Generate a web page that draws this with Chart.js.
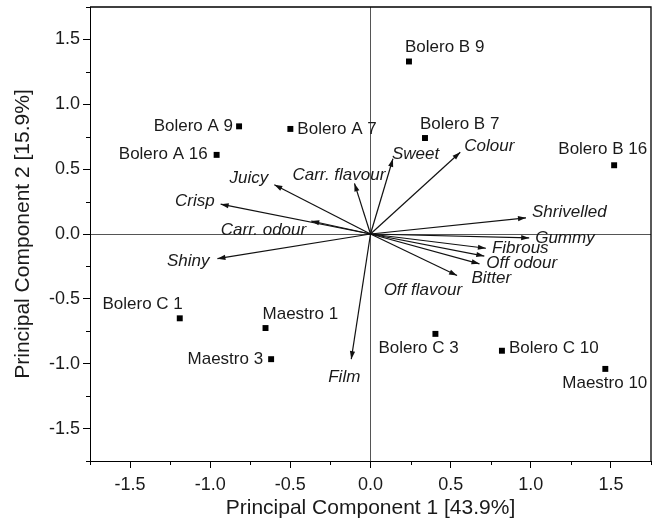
<!DOCTYPE html>
<html>
<head>
<meta charset="utf-8">
<script src="https://cdn.jsdelivr.net/npm/chart.js@4/dist/chart.umd.min.js"></script>
<style>
  body { margin: 0; background: #fff; }
  #wrap { width: 658px; height: 528px; }
</style>
</head>
<body>
<div id="wrap"><canvas id="pcaChart"></canvas></div>
<script>
// samples (scores)
let sampleNames = ["Bolero A 9", "Bolero A 7", "Bolero A 16", "Bolero B 9", "Bolero B 7", "Bolero B 16",
   "Bolero C 1", "Maestro 1", "Maestro 3", "Bolero C 3", "Bolero C 10", "Maestro 10"];
let sampleX = [-0.82, -0.50, -0.96, 0.24, 0.34, 1.52, -1.19, -0.655, -0.62, 0.405, 0.82, 1.465];
let sampleY = [0.83, 0.81, 0.61, 1.33, 0.74, 0.53, -0.65, -0.725, -0.965, -0.77, -0.90, -1.04];

// sensory attributes (loadings)
let attrNames = ["Juicy", "Crisp", "Carr. odour", "Shiny", "Carr. flavour", "Sweet", "Colour",
   "Shrivelled", "Gummy", "Fibrous", "Off odour", "Bitter", "Off flavour", "Film"];
let attrX = [-0.60, -0.935, -0.37, -0.955, -0.10, 0.14, 0.56, 0.97, 0.99, 0.72, 0.71, 0.68, 0.54, -0.12];
let attrY = [0.38, 0.23, 0.10, -0.19, 0.39, 0.58, 0.63, 0.125, -0.03, -0.11, -0.17, -0.23, -0.32, -0.965];

// axis ticks
let tickValues = [-1.5, -1.0, -0.5, 0.0, 0.5, 1.0, 1.5];
let minorTickValues = [-1.75, -1.25, -0.75, -0.25, 0.25, 0.75, 1.25, 1.75];

// label placement, pixel offset from the mark [dx, dy, align]
let sampleLabelPos = [
   [-6, 0, "right"], [7, 0, "left"], [-9, -1, "right"], [-4, -14, "left"],
   [-5, -14, "left"], [33, -16, "right"], [3, -14, "right"], [-3, -14, "left"],
   [-8, 0, "right"], [-57, 14, "left"], [7, -2, "left"], [42, 14, "right"]
];
let attrLabelPos = [
   [-6, -6, "right"], [-6, -3, "right"], [-5, 9, "right"], [-8, 3, "right"],
   [-62, -8, "left"], [-1, -5, "left"], [4, -6, "left"], [6, -6, "left"],
   [6, 0, "left"], [6, 0, "left"], [2, 7, "left"], [-8, 14, "left"],
   [5, 15, "right"], [-7, 18, "center"]
];

let fontFam = "'Liberation Sans', Arial, sans-serif";

// arrow shafts, one line per attribute
let arrowSets = attrNames.map((name, i) => ({
   type: "line",
   label: name,
   data: [{ x: 0, y: 0 }, { x: attrX[i], y: attrY[i] }],
   borderColor: "#111",
   borderWidth: 1.2,
   pointRadius: 0,
   showLine: true,
}));

// arrowheads, labels, frame, minor ticks
let extrasPlugin = {
   id: "extras",
   afterDatasetsDraw(chart) {
      let ctx = chart.ctx;
      let xs = chart.scales.x;
      let ys = chart.scales.y;
      let area = chart.chartArea;
      ctx.save();

      // arrowheads
      ctx.fillStyle = "#111";
      attrNames.forEach((n, i) => {
         let x0 = xs.getPixelForValue(0), y0 = ys.getPixelForValue(0);
         let x1 = xs.getPixelForValue(attrX[i]), y1 = ys.getPixelForValue(attrY[i]);
         let a = Math.atan2(y1 - y0, x1 - x0);
         let len = 8, half = 2.6;
         ctx.beginPath();
         ctx.moveTo(x1, y1);
         ctx.lineTo(x1 - len * Math.cos(a) + half * Math.sin(a), y1 - len * Math.sin(a) - half * Math.cos(a));
         ctx.lineTo(x1 - len * Math.cos(a) - half * Math.sin(a), y1 - len * Math.sin(a) + half * Math.cos(a));
         ctx.closePath();
         ctx.fill();
      });

      // sample labels
      ctx.fillStyle = "#1a1a1a";
      ctx.textBaseline = "middle";
      ctx.font = "17px " + fontFam;
      sampleNames.forEach((n, i) => {
         let p = sampleLabelPos[i];
         ctx.textAlign = p[2];
         ctx.fillText(n, xs.getPixelForValue(sampleX[i]) + p[0], ys.getPixelForValue(sampleY[i]) + p[1]);
      });

      // attribute labels
      ctx.font = "italic 17px " + fontFam;
      attrNames.forEach((n, i) => {
         let p = attrLabelPos[i];
         ctx.textAlign = p[2];
         ctx.fillText(n, xs.getPixelForValue(attrX[i]) + p[0], ys.getPixelForValue(attrY[i]) + p[1]);
      });

      // top and right frame
      ctx.strokeStyle = "#000";
      ctx.lineWidth = 1.3;
      ctx.beginPath();
      ctx.moveTo(area.left, area.top);
      ctx.lineTo(area.right, area.top);
      ctx.lineTo(area.right, area.bottom);
      ctx.stroke();

      // minor ticks
      ctx.lineWidth = 1;
      ctx.beginPath();
      minorTickValues.forEach((v) => {
         let px = Math.round(xs.getPixelForValue(v)) + 0.5;
         ctx.moveTo(px, area.bottom);
         ctx.lineTo(px, area.bottom + 4);
         let py = Math.round(ys.getPixelForValue(v)) + 0.5;
         ctx.moveTo(area.left, py);
         ctx.lineTo(area.left - 4, py);
      });
      ctx.stroke();
      ctx.restore();
   },
};

let zeroLine = (c) => (c.tick && c.tick.value === 0 ? "#555" : "rgba(0,0,0,0)");

new Chart("pcaChart", {
   type: "scatter",
   data: {
      datasets: [
         {
            label: "Samples",
            data: sampleX.map((x, i) => ({ x: x, y: sampleY[i] })),
            pointStyle: "rect",
            pointRadius: 4.2,
            backgroundColor: "#000",
            borderColor: "#000",
            borderWidth: 0,
         },
      ].concat(arrowSets),
   },
   options: {
      responsive: true,
      maintainAspectRatio: false,
      animation: false,
      layout: { padding: { top: 7, right: 7, left: 0, bottom: 0 } },
      plugins: {
         legend: { display: false },
         tooltip: { enabled: false },
      },
      scales: {
         x: {
            type: "linear",
            min: -1.75,
            max: 1.75,
            afterBuildTicks: (s) => { s.ticks = tickValues.map((v) => ({ value: v })); },
            afterFit: (s) => { s.height = 67; s.paddingLeft = 0; s.paddingRight = 0; },
            border: { display: true, color: "#000", width: 1 },
            grid: { drawOnChartArea: true, color: zeroLine, tickColor: "#000", tickLength: 7, lineWidth: 1 },
            ticks: {
               color: "#1a1a1a",
               padding: 6,
               maxRotation: 0,
               font: { family: fontFam, size: 18 },
               callback: (v) => Number(v).toFixed(1),
            },
            title: {
               display: true,
               text: "Principal Component 1 [43.9%]",
               color: "#1a1a1a",
               font: { family: fontFam, size: 21 },
               padding: { top: 0, bottom: 7 },
            },
         },
         y: {
            type: "linear",
            min: -1.75,
            max: 1.75,
            afterBuildTicks: (s) => { s.ticks = tickValues.map((v) => ({ value: v })); },
            afterFit: (s) => { s.width = 90; s.paddingTop = 0; s.paddingBottom = 0; },
            border: { display: true, color: "#000", width: 1 },
            grid: { drawOnChartArea: true, color: zeroLine, tickColor: "#000", tickLength: 7, lineWidth: 1 },
            ticks: {
               color: "#1a1a1a",
               padding: 3,
               font: { family: fontFam, size: 18 },
               callback: (v) => Number(v).toFixed(1),
            },
            title: {
               display: true,
               text: "Principal Component 2 [15.9%]",
               color: "#1a1a1a",
               font: { family: fontFam, size: 21 },
               padding: { top: 11, bottom: 0 },
            },
         },
      },
   },
   plugins: [extrasPlugin],
});
</script>
</body>
</html>
